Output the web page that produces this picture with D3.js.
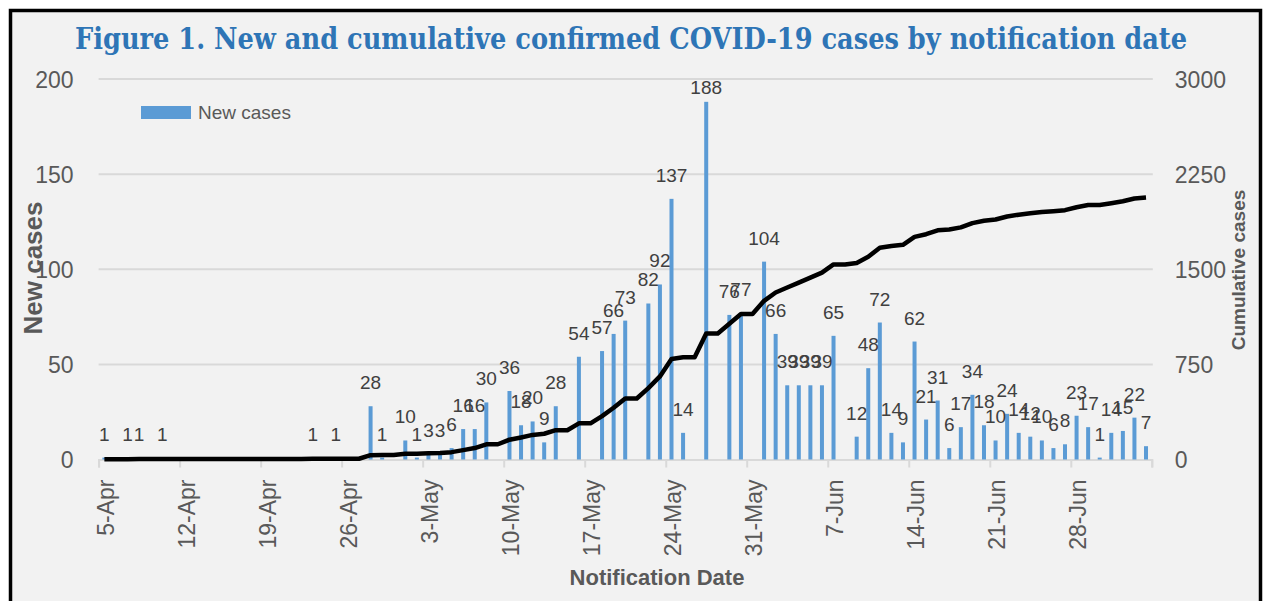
<!DOCTYPE html>
<html>
<head>
<meta charset="utf-8">
<title>New and cumulative confirmed COVID-19 cases</title>
<script src="https://cdn.jsdelivr.net/npm/d3@7"></script>
<style>
body, html {
  margin: 0;
  background: #fff;
}
svg { display: block; }
.tick text { font-family: "Liberation Sans", Arial, sans-serif; fill: #595959; }
.lbl { font-family: "Liberation Sans", Arial, sans-serif; font-size: 19px; fill: #404040; }
</style>
</head>
<body>
<script>
// 91 days, 5-Apr .. 4-Jul
var days = d3.timeDay.range(new Date(2020, 3, 5), new Date(2020, 6, 5));

// new cases per day (null = no bar)
var newCases = [
  1, null, 1, 1, null, 1, null, null, null, null, null, null, null, null, null, null, null, null,
  1, null, 1, null, null, 28, 1, null,
  10, 1, 3, 3, 6, 16, 16, 30, null, 36, 18, 20, 9, 28, null, 54, null,
  57, 66, 73, null, 82, 92, 137, 14, null, 188, null, 76, 77, null,
  104, 66, 39, 39, 39, 39, 65, null, 12, 48, 72, 14, 9, 62, 21, 31, 6,
  17, 34, 18, 10, 24, 14, 12, 10, 6, 8, 23, 17, 1, 14, 15, 22, 7
];

// cumulative cases per day
var cumulative = [
  1, 1, 2, 3, 3, 4, 4, 4, 4, 4, 4, 4, 4, 4, 4, 4, 4, 4,
  5, 5, 6, 6, 6, 34, 35, 35,
  45, 46, 49, 52, 58, 74, 90, 120, 120, 156, 174, 194, 203, 231, 231, 285, 285,
  342, 408, 481, 481, 563, 655, 792, 806, 806, 994, 994, 1070, 1147, 1147,
  1251, 1317, 1356, 1395, 1434, 1473, 1538, 1538, 1550, 1598, 1670, 1684, 1693, 1755, 1776, 1807, 1813,
  1830, 1864, 1882, 1892, 1916, 1930, 1942, 1952, 1958, 1966, 1989, 2006, 2007, 2021, 2036, 2058, 2065
];

var xTickLabels = ["5-Apr", "12-Apr", "19-Apr", "26-Apr", "3-May", "10-May", "17-May",
                   "24-May", "31-May", "7-Jun", "14-Jun", "21-Jun", "28-Jun"];
var leftTicks = [0, 50, 100, 150, 200];
var rightTicks = [0, 750, 1500, 2250, 3000];

var W = 1266, H = 601;
var plotL = 98.6, plotR = 1151.8, plotT = 79, plotB = 459.5;

var svg = d3.select("body").append("svg")
  .attr("width", W)
  .attr("height", H);

// frame
svg.append("rect")
  .attr("x", 10.5).attr("y", 10.5)
  .attr("width", 1250).attr("height", 640)
  .attr("fill", "#f2f2f2")
  .attr("stroke", "#000")
  .attr("stroke-width", 3.5);

var x = d3.scaleBand()
  .domain(d3.range(days.length))
  .range([plotL, plotR]);
var xPos = d3.scaleLinear().domain([0, days.length]).range([plotL, plotR]);
var yL = d3.scaleLinear().domain([0, 200]).range([plotB, plotT]);
var yR = d3.scaleLinear().domain([0, 3000]).range([plotB, plotT]);

// title
svg.append("text")
  .attr("x", 631).attr("y", 49)
  .attr("text-anchor", "middle")
  .attr("textLength", 1112)
  .attr("lengthAdjust", "spacingAndGlyphs")
  .style("font-family", "'DejaVu Serif', 'Liberation Serif', serif")
  .style("font-weight", "bold")
  .style("font-size", "29px")
  .style("fill", "#2e75b6")
  .text("Figure 1. New and cumulative confirmed COVID-19 cases by notification date");

// gridlines
svg.append("g")
  .selectAll("line")
  .data(leftTicks.slice(1))
  .enter().append("line")
    .attr("x1", plotL).attr("x2", plotR + 1)
    .attr("y1", function(d) { return yL(d); })
    .attr("y2", function(d) { return yL(d); })
    .attr("stroke", "#d9d9d9")
    .attr("stroke-width", 2);

// left axis
var gL = svg.append("g")
  .attr("transform", "translate(" + (plotL - 25) + ",0)")
  .call(d3.axisLeft(yL).tickValues(leftTicks).tickSize(0).tickPadding(0));
gL.select(".domain").remove();
gL.selectAll("text").style("font-size", "23px").attr("dy", "0.36em");

// right axis
var gR = svg.append("g")
  .attr("transform", "translate(" + (plotR + 23) + ",0)")
  .call(d3.axisRight(yR).tickValues(rightTicks).tickSize(0).tickPadding(0).tickFormat(d3.format("d")));
gR.select(".domain").remove();
gR.selectAll("text").style("font-size", "23px").attr("dy", "0.36em");

// bottom axis: ticks at week boundaries
var gX = svg.append("g")
  .attr("transform", "translate(0," + plotB + ")")
  .call(d3.axisBottom(xPos).tickValues(d3.range(0, days.length + 1, 7)).tickSize(8).tickFormat(""));
gX.select(".domain").attr("stroke", "#d9d9d9").attr("stroke-width", 2);
gX.selectAll(".tick line").attr("stroke", "#d9d9d9").attr("stroke-width", 2);

svg.append("g")
  .selectAll("text")
  .data(xTickLabels)
  .enter().append("text")
    .attr("transform", function(d, i) {
      return "translate(" + (xPos(i * 7 + 0.5) + 1) + "," + (plotB + 20) + ") rotate(-90)";
    })
    .attr("text-anchor", "end")
    .attr("dy", "0.36em")
    .style("font-family", "'Liberation Sans', Arial, sans-serif")
    .style("font-size", "23px")
    .style("fill", "#595959")
    .text(function(d) { return d; });

// bars
var barW = 4;
var barData = newCases.map(function(v, i) { return {i: i, v: v}; })
  .filter(function(d) { return d.v !== null; });

svg.append("g")
  .selectAll("rect")
  .data(barData)
  .enter().append("rect")
    .attr("x", function(d) { return x(d.i) + x.bandwidth() / 2 - barW / 2; })
    .attr("y", function(d) { return yL(d.v); })
    .attr("width", barW)
    .attr("height", function(d) { return plotB - yL(d.v); })
    .attr("fill", "#5b9bd5");

// cumulative line
var line = d3.line()
  .x(function(d, i) { return x(i) + x.bandwidth() / 2; })
  .y(function(d) { return yR(d); });

svg.append("path")
  .datum(cumulative)
  .attr("d", line)
  .attr("fill", "none")
  .attr("stroke", "#000")
  .attr("stroke-width", 4.5)
  .attr("stroke-linejoin", "round");

// bar labels
svg.append("g")
  .selectAll("text")
  .data(barData)
  .enter().append("text")
    .attr("class", "lbl")
    .attr("x", function(d) { return x(d.i) + x.bandwidth() / 2; })
    .attr("y", function(d) { return Math.max(yL(d.v) - 17, 94); })
    .attr("text-anchor", "middle")
    .text(function(d) { return d.v; });

// legend
svg.append("rect")
  .attr("x", 141).attr("y", 106)
  .attr("width", 50).attr("height", 13)
  .attr("fill", "#5b9bd5");
svg.append("text")
  .attr("x", 198).attr("y", 119)
  .style("font-family", "'Liberation Sans', Arial, sans-serif")
  .style("font-size", "19px")
  .style("fill", "#595959")
  .text("New cases");

// axis titles
svg.append("text")
  .attr("transform", "translate(42,268) rotate(-90)")
  .attr("text-anchor", "middle")
  .style("font-family", "'Liberation Sans', Arial, sans-serif")
  .style("font-weight", "bold")
  .style("font-size", "26px")
  .style("fill", "#595959")
  .text("New cases");

svg.append("text")
  .attr("transform", "translate(1245,270) rotate(-90)")
  .attr("text-anchor", "middle")
  .style("font-family", "'Liberation Sans', Arial, sans-serif")
  .style("font-weight", "bold")
  .style("font-size", "19px")
  .style("fill", "#595959")
  .text("Cumulative cases");

svg.append("text")
  .attr("x", 657).attr("y", 585)
  .attr("text-anchor", "middle")
  .style("font-family", "'Liberation Sans', Arial, sans-serif")
  .style("font-weight", "bold")
  .style("font-size", "22px")
  .style("fill", "#595959")
  .text("Notification Date");
</script>
</body>
</html>
